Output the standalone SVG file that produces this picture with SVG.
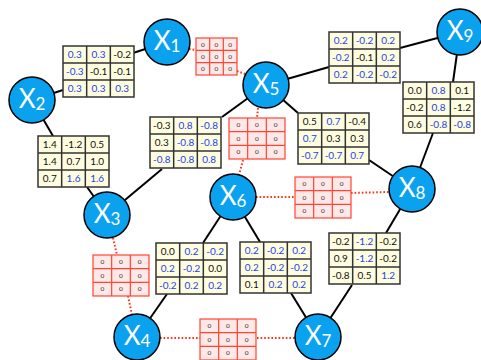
<svg xmlns="http://www.w3.org/2000/svg" xmlns:xlink="http://www.w3.org/1999/xlink" width="481" height="360" viewBox="0 0 481 360">
<style>
.edge{stroke:#000;stroke-width:2;fill:none}
.dot{stroke:#FF3311;stroke-width:2;fill:none;stroke-dasharray:1.6 2}
.node circle{fill:#0AA2EE;stroke:#000;stroke-width:1.5}
.node text{fill:#fff;font-family:Lato,"Open Sans",sans-serif;font-size:26px;text-anchor:middle}
.node tspan{font-size:17px}
.tb{fill:#FFFDE0;stroke:#333;stroke-width:1.5}
.tl{stroke:#333;stroke-width:1.5}
.rb{fill:#FFE8E8;stroke:#FF4433;stroke-width:1.2}
.rl{stroke:#FF4433;stroke-width:1.2}
.t text{font-family:Lato,"Open Sans",sans-serif;font-size:10px;text-anchor:middle;fill:#111}
.t text.b{fill:#2244EE}
.rz{font-family:Lato,"Open Sans",sans-serif;font-size:6.5px;text-anchor:middle;fill:#333}
</style>
<defs>
<g id="grid">
<rect class="tb" x="0" y="0" width="71" height="51"/>
<path class="tl" d="M23.67 0V51M47.33 0V51M0 17H71M0 34H71"/>
</g>
<g id="rgrid">
<rect class="rb" x="0" y="0" width="56" height="41"/>
<path class="rl" d="M18.67 0V41M37.33 0V41M0 13.67H56M0 27.33H56"/>
</g>
<g id="rgridS">
<rect class="rb" x="0" y="0" width="41" height="37"/>
<path class="rl" d="M13.67 0V37M27.33 0V37M0 12.33H41M0 24.67H41"/>
</g>
<g id="r0">
<text class="rz" x="9.3" y="9">0</text><text class="rz" x="28" y="9">0</text><text class="rz" x="46.7" y="9">0</text>
<text class="rz" x="9.3" y="22.7">0</text><text class="rz" x="28" y="22.7">0</text><text class="rz" x="46.7" y="22.7">0</text>
<text class="rz" x="9.3" y="36.4">0</text><text class="rz" x="28" y="36.4">0</text><text class="rz" x="46.7" y="36.4">0</text>
</g>
</defs>

<g id="connectors">
<line class="edge" x1="167" y1="42" x2="133" y2="53"/>
<line class="edge" x1="32" y1="100" x2="63" y2="90"/>
<line class="edge" x1="32" y1="100" x2="53" y2="136"/>
<line class="edge" x1="87" y1="187" x2="107" y2="215"/>
<line class="edge" x1="107" y1="215" x2="162" y2="169"/>
<line class="edge" x1="222" y1="117" x2="266" y2="85"/>
<line class="edge" x1="266" y1="85" x2="329" y2="67"/>
<line class="edge" x1="400" y1="48" x2="460" y2="32"/>
<line class="edge" x1="460" y1="32" x2="453" y2="82"/>
<line class="edge" x1="433" y1="133" x2="412" y2="189"/>
<line class="edge" x1="266" y1="85" x2="298" y2="113"/>
<line class="edge" x1="369" y1="160" x2="412" y2="189"/>
<line class="edge" x1="412" y1="189" x2="386" y2="233"/>
<line class="edge" x1="352" y1="285" x2="318" y2="337"/>
<line class="edge" x1="233" y1="197" x2="203" y2="243"/>
<line class="edge" x1="167" y1="294" x2="137" y2="337"/>
<line class="edge" x1="233" y1="197" x2="260" y2="242"/>
<line class="edge" x1="291" y1="293" x2="318" y2="337"/>
<line class="dot" x1="189" y1="49" x2="196" y2="50"/>
<line class="dot" x1="237" y1="71" x2="245" y2="74"/>
<line class="dot" x1="258" y1="108" x2="257" y2="118"/>
<line class="dot" x1="243" y1="160" x2="239" y2="175"/>
<line class="dot" x1="256" y1="197" x2="295" y2="197"/>
<line class="dot" x1="351" y1="193" x2="389" y2="192"/>
<line class="dot" x1="113" y1="238" x2="117" y2="255"/>
<line class="dot" x1="128" y1="296" x2="132" y2="315"/>
<line class="dot" x1="160" y1="338" x2="200" y2="338"/>
<line class="dot" x1="257" y1="338" x2="295" y2="338"/>
</g>

<g id="T12" class="t" transform="translate(63,46)"><use xlink:href="#grid"/>
<text class="b" x="11.8" y="12">0.3</text><text class="b" x="35.5" y="12">0.3</text><text x="59.2" y="12">-0.2</text>
<text class="b" x="11.8" y="29">-0.3</text><text x="35.5" y="29">-0.1</text><text x="59.2" y="29">-0.1</text>
<text class="b" x="11.8" y="46">0.3</text><text class="b" x="35.5" y="46">0.3</text><text class="b" x="59.2" y="46">0.3</text>
</g>
<g id="T23" class="t" transform="translate(38,136)"><use xlink:href="#grid"/>
<text x="11.8" y="12">1.4</text><text x="35.5" y="12">-1.2</text><text x="59.2" y="12">0.5</text>
<text x="11.8" y="29">1.4</text><text x="35.5" y="29">0.7</text><text x="59.2" y="29">1.0</text>
<text x="11.8" y="46">0.7</text><text class="b" x="35.5" y="46">1.6</text><text class="b" x="59.2" y="46">1.6</text>
</g>
<g id="T36" class="t" transform="translate(150,117)"><use xlink:href="#grid"/>
<text x="11.8" y="12">-0.3</text><text class="b" x="35.5" y="12">0.8</text><text class="b" x="59.2" y="12">-0.8</text>
<text x="11.8" y="29">0.3</text><text class="b" x="35.5" y="29">-0.8</text><text class="b" x="59.2" y="29">-0.8</text>
<text class="b" x="11.8" y="46">-0.8</text><text class="b" x="35.5" y="46">-0.8</text><text class="b" x="59.2" y="46">0.8</text>
</g>
<g id="T59" class="t" transform="translate(329,32)"><use xlink:href="#grid"/>
<text class="b" x="11.8" y="12">0.2</text><text class="b" x="35.5" y="12">-0.2</text><text class="b" x="59.2" y="12">0.2</text>
<text class="b" x="11.8" y="29">-0.2</text><text x="35.5" y="29">-0.1</text><text class="b" x="59.2" y="29">0.2</text>
<text class="b" x="11.8" y="46">0.2</text><text class="b" x="35.5" y="46">-0.2</text><text class="b" x="59.2" y="46">-0.2</text>
</g>
<g id="T98" class="t" transform="translate(403,82)"><use xlink:href="#grid"/>
<text x="11.8" y="12">0.0</text><text class="b" x="35.5" y="12">0.8</text><text x="59.2" y="12">0.1</text>
<text x="11.8" y="29">-0.2</text><text class="b" x="35.5" y="29">0.8</text><text x="59.2" y="29">-1.2</text>
<text x="11.8" y="46">0.6</text><text class="b" x="35.5" y="46">-0.8</text><text class="b" x="59.2" y="46">-0.8</text>
</g>
<g id="T58" class="t" transform="translate(298,113)"><use xlink:href="#grid"/>
<text x="11.8" y="12">0.5</text><text class="b" x="35.5" y="12">0.7</text><text x="59.2" y="12">-0.4</text>
<text class="b" x="11.8" y="29">0.7</text><text x="35.5" y="29">0.3</text><text x="59.2" y="29">0.3</text>
<text class="b" x="11.8" y="46">-0.7</text><text class="b" x="35.5" y="46">-0.7</text><text class="b" x="59.2" y="46">0.7</text>
</g>
<g id="T64" class="t" transform="translate(156,243)"><use xlink:href="#grid"/>
<text x="11.8" y="12">0.0</text><text class="b" x="35.5" y="12">0.2</text><text class="b" x="59.2" y="12">-0.2</text>
<text class="b" x="11.8" y="29">0.2</text><text class="b" x="35.5" y="29">-0.2</text><text x="59.2" y="29">0.0</text>
<text class="b" x="11.8" y="46">-0.2</text><text class="b" x="35.5" y="46">0.2</text><text class="b" x="59.2" y="46">0.2</text>
</g>
<g id="T67" class="t" transform="translate(240,242)"><use xlink:href="#grid"/>
<text class="b" x="11.8" y="12">0.2</text><text class="b" x="35.5" y="12">-0.2</text><text class="b" x="59.2" y="12">0.2</text>
<text class="b" x="11.8" y="29">0.2</text><text class="b" x="35.5" y="29">-0.2</text><text class="b" x="59.2" y="29">-0.2</text>
<text x="11.8" y="46">0.1</text><text class="b" x="35.5" y="46">0.2</text><text class="b" x="59.2" y="46">0.2</text>
</g>
<g id="T87" class="t" transform="translate(329,233)"><use xlink:href="#grid"/>
<text x="11.8" y="12">-0.2</text><text class="b" x="35.5" y="12">-1.2</text><text x="59.2" y="12">-0.2</text>
<text x="11.8" y="29">0.9</text><text class="b" x="35.5" y="29">-1.2</text><text x="59.2" y="29">-0.2</text>
<text x="11.8" y="46">-0.8</text><text x="35.5" y="46">0.5</text><text class="b" x="59.2" y="46">1.2</text>
</g>

<g id="R15" transform="translate(196,38)"><use xlink:href="#rgridS"/>
<text class="rz" x="6.8" y="8.5">0</text><text class="rz" x="20.5" y="8.5">0</text><text class="rz" x="34.2" y="8.5">0</text>
<text class="rz" x="6.8" y="20.8">0</text><text class="rz" x="20.5" y="20.8">0</text><text class="rz" x="34.2" y="20.8">0</text>
<text class="rz" x="6.8" y="33.1">0</text><text class="rz" x="20.5" y="33.1">0</text><text class="rz" x="34.2" y="33.1">0</text>
</g>
<g id="R56" transform="translate(229,118)"><use xlink:href="#rgrid"/><use xlink:href="#r0"/></g>
<g id="R68" transform="translate(295,177)"><use xlink:href="#rgrid"/><use xlink:href="#r0"/></g>
<g id="R34" transform="translate(93,255)"><use xlink:href="#rgrid"/><use xlink:href="#r0"/></g>
<g id="R47" transform="translate(200,319)"><use xlink:href="#rgrid"/><use xlink:href="#r0"/></g>

<g id="X1" class="node"><circle cx="167" cy="42" r="23"/><text x="167" y="50">X<tspan dy="2">1</tspan></text></g>
<g id="X2" class="node"><circle cx="32" cy="100" r="23"/><text x="32" y="108">X<tspan dy="2">2</tspan></text></g>
<g id="X3" class="node"><circle cx="107" cy="215" r="23"/><text x="107" y="223">X<tspan dy="2">3</tspan></text></g>
<g id="X4" class="node"><circle cx="137" cy="337" r="23"/><text x="137" y="345">X<tspan dy="2">4</tspan></text></g>
<g id="X5" class="node"><circle cx="266" cy="85" r="23"/><text x="266" y="93">X<tspan dy="2">5</tspan></text></g>
<g id="X6" class="node"><circle cx="233" cy="197" r="23"/><text x="233" y="205">X<tspan dy="2">6</tspan></text></g>
<g id="X7" class="node"><circle cx="318" cy="337" r="23"/><text x="318" y="345">X<tspan dy="2">7</tspan></text></g>
<g id="X8" class="node"><circle cx="412" cy="189" r="23"/><text x="412" y="197">X<tspan dy="2">8</tspan></text></g>
<g id="X9" class="node"><circle cx="460" cy="32" r="23"/><text x="460" y="40">X<tspan dy="2">9</tspan></text></g>
</svg>
